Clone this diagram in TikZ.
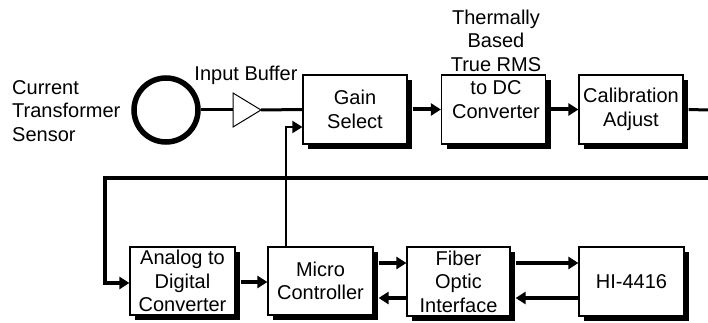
\documentclass[tikz,border=0pt]{standalone}
\usepackage{fontspec}
\setmainfont{Liberation Sans}
\usetikzlibrary{arrows.meta,calc,shadows}
\begin{document}
\begin{tikzpicture}[x=1pt,y=-1pt,
  txt/.style={align=center,inner sep=0pt,font=\fontsize{20}{23.5}\selectfont},
  box/.style={draw,line width=1.2pt,fill=white,minimum width=104pt,minimum height=69pt,
    align=center,inner sep=0pt,font=\fontsize{20}{23.5}\selectfont,
    drop shadow={shadow xshift=5pt,shadow yshift=-5pt,fill=black,opacity=1}},
  sig/.style={line width=3pt},
  bus/.style={line width=4pt},
  ctrl/.style={line width=2pt},
  arr/.style={-{Triangle[length=10pt,width=12pt]}}
]
\useasboundingbox (0,0) rectangle (708,323);

% top row
\node[draw,circle,line width=5.5pt,minimum size=64pt,inner sep=0pt] (ct) at (166,110) {};
\node[txt,align=left,anchor=west] (ctlabel) at (12,111) {Current\\Transformer\\Sensor};
\coordinate (bufin) at (233,110);
\coordinate (bufout) at (261,110);
\draw[line width=1pt] (233,93) -- (bufout) -- (233,127) -- cycle;
\node[txt] (buflabel) at (246,75) {Input Buffer};

\node[box] (gain) at (355,109.5) {Gain\\Select};
\node[box] (rms) at (493.5,109.5) {};
\node[txt] (rmslabel) at (496,64) {Thermally\\Based\\True RMS\\to DC\\Converter};
\node[box] (cal) at (631,109.5) {Calibration\\Adjust};

% bottom row
\node[box,minimum width=105pt,minimum height=68pt] (adc) at (182.5,281) {Analog to\\Digital\\Converter};
\node[box,minimum width=105pt,minimum height=68pt] (mc) at (320.5,281) {Micro\\Controller};
\node[box,minimum width=103pt] (fo) at (458.5,281.5) {Fiber\\Optic\\Interface};
\node[box,minimum width=105pt] (hi) at (631.5,281.5) {HI-4416};

% connections top
\draw[sig] (ct.east) -- (bufin);
\draw[sig] (bufout) -- (gain.west);
\draw[bus,arr] (gain.east) ++(5,0) -- (rms.west);
\draw[bus,arr] (rms.east) ++(5,0) -- (cal.west);
\coordinate (outR) at (708,110);
\draw[sig] (cal.east) ++(5,0) -- (outR);

% loop back
\coordinate (loopR) at (708,178);
\coordinate (loopL) at (105,178);
\draw[bus,arr] (loopR) -- (loopL) |- ($(adc.west)+(0,2)$);

% control line
\draw[ctrl,arr] ($(mc.north west)+(19,0)$) |- ($(gain.west)+(0,17.5)$);

% bottom connections
\draw[bus,arr] ($(adc.east)+(5,1)$) -- ($(mc.west)+(0,1)$);
\draw[bus,arr] ($(mc.east)+(5,-18)$) -- ($(fo.west)+(0,-18.5)$);
\draw[bus,arr] ($(fo.west)+(0,16.5)$) -- ($(mc.east)+(5,17)$);
\draw[bus,arr] ($(fo.east)+(5,-18.5)$) -- ($(hi.west)+(0,-18.5)$);
\draw[bus,arr] ($(hi.west)+(0,16.5)$) -- ($(fo.east)+(5,16.5)$);
\end{tikzpicture}
\end{document}
